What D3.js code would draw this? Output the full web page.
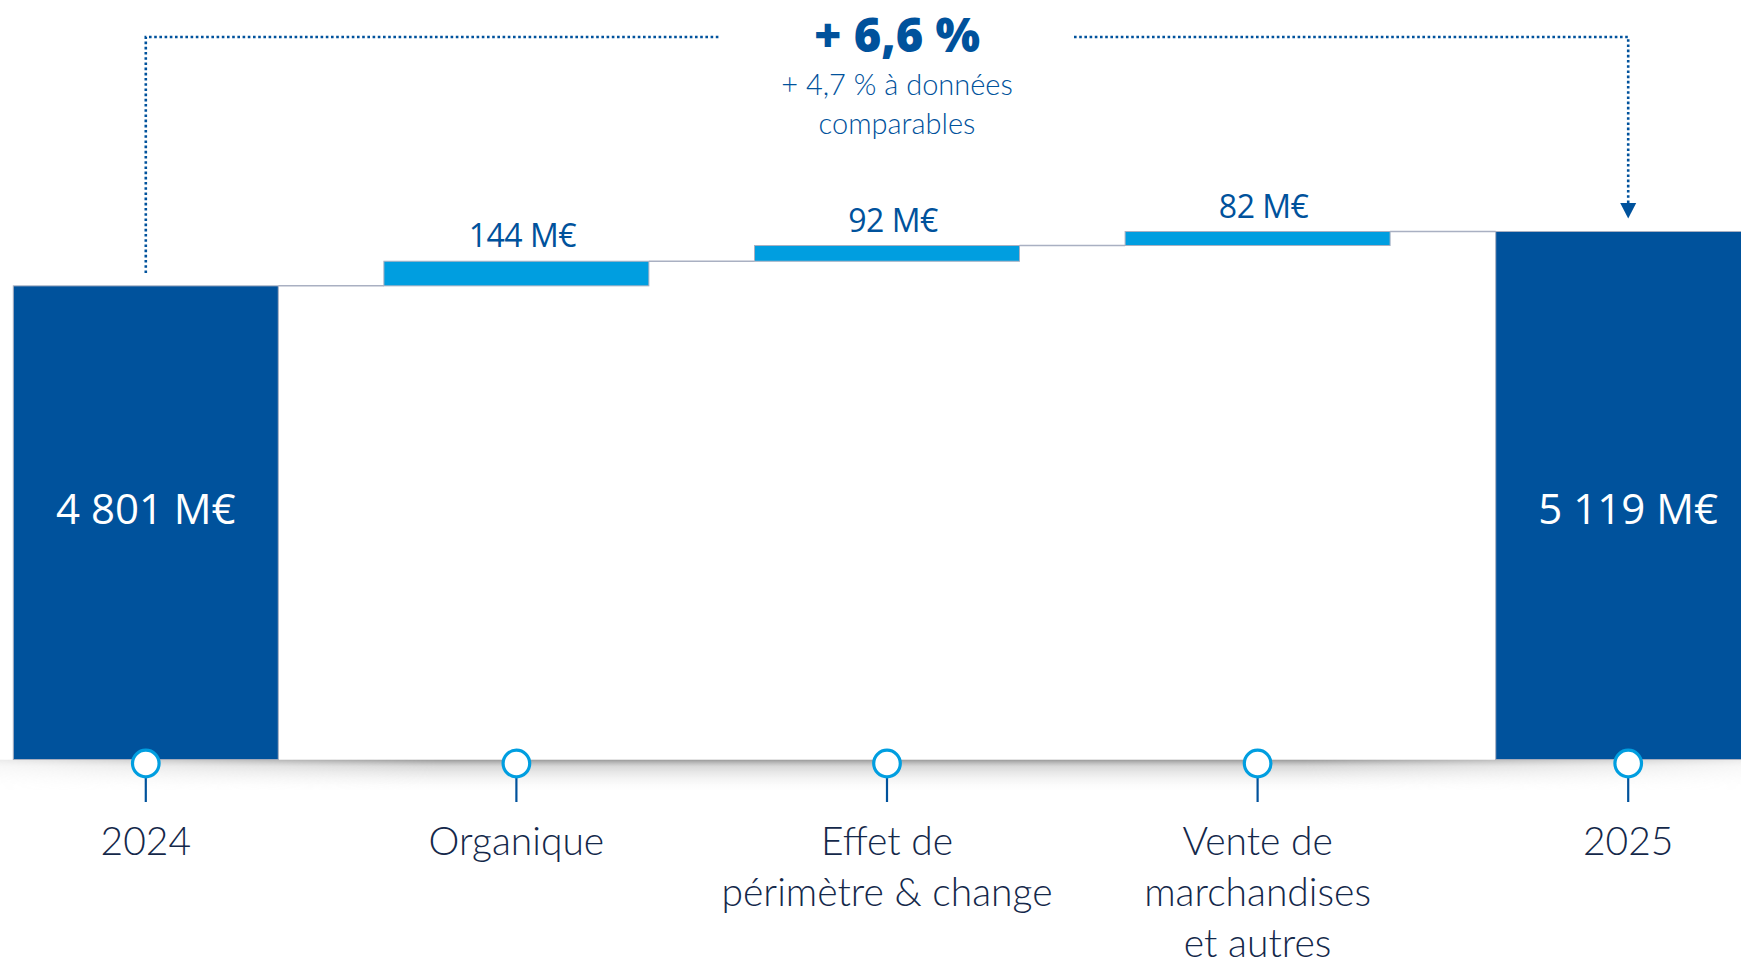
<!DOCTYPE html>
<html>
<head>
<meta charset="utf-8">
<script src="https://cdn.jsdelivr.net/npm/d3@7/dist/d3.min.js"></script>
<style>
  html, body { margin: 0; padding: 0; background: #ffffff; }
  svg { display: block; }
</style>
</head>
<body>
<svg id="chart" width="1741" height="959"></svg>
<script>
// ---------- DATA ----------
const categories = ["2024", "Organique", "Effet de périmètre & change", "Vente de marchandises et autres", "2025"];
const categoryLines = [["2024"], ["Organique"], ["Effet de", "périmètre & change"], ["Vente de", "marchandises", "et autres"], ["2025"]];
const barTypes = ["total", "delta", "delta", "delta", "total"];
const values = [4801, 144, 92, 82, 5119];
const valueLabels = ["4 801 M€", "144 M€", "92 M€", "82 M€", "5 119 M€"];
const growthMain = "+ 6,6 %";
const growthSub = ["+ 4,7 % à données", "comparables"];

// ---------- LAYOUT ----------
const W = 1741, H = 959;
const baseY = 759.5;
const yFloor = 2030;           // value at the baseline (axis does not start at 0)
const darkBlue = "#00529c";
const lightBlue = "#009ee0";
const edgeGray = "#a9b0c2";
const labelColor = "#14284a";

const svg = d3.select("#chart");

// compute waterfall extents
let running = 0;
const bars = categories.map((c, i) => {
  let lo, hi;
  if (barTypes[i] === "total") { lo = yFloor; hi = values[i]; running = values[i]; }
  else { lo = running; hi = running + values[i]; running = hi; }
  return { cat: c, lines: categoryLines[i], type: barTypes[i], lo, hi, label: valueLabels[i] };
});

const x = d3.scaleBand()
  .domain(categories)
  .range([13.3, 1760.7])
  .paddingInner(0.285)
  .paddingOuter(0);

const y = d3.scaleLinear()
  .domain([yFloor, d3.max(bars, d => d.hi)])
  .range([baseY, 231.5]);

const cx = c => x(c) + x.bandwidth() / 2;

// ---------- DEFS ----------
const defs = svg.append("defs");
const vg = defs.append("linearGradient").attr("id", "shadowV").attr("x1", 0).attr("y1", 0).attr("x2", 0).attr("y2", 1);
vg.append("stop").attr("offset", "0%").attr("stop-color", "#8a8a8a").attr("stop-opacity", 0.9);
vg.append("stop").attr("offset", "20%").attr("stop-color", "#b8b8b8").attr("stop-opacity", 0.55);
vg.append("stop").attr("offset", "100%").attr("stop-color", "#ffffff").attr("stop-opacity", 0);
const hg = defs.append("linearGradient").attr("id", "shadowH").attr("x1", 0).attr("y1", 0).attr("x2", 1).attr("y2", 0);
hg.append("stop").attr("offset", "0%").attr("stop-color", "#fff").attr("stop-opacity", 0.2);
hg.append("stop").attr("offset", "25%").attr("stop-color", "#fff").attr("stop-opacity", 1);
hg.append("stop").attr("offset", "75%").attr("stop-color", "#fff").attr("stop-opacity", 1);
hg.append("stop").attr("offset", "100%").attr("stop-color", "#fff").attr("stop-opacity", 0.2);
const mask = defs.append("mask").attr("id", "shadowMask").attr("maskUnits", "userSpaceOnUse")
  .attr("x", 0).attr("y", 0).attr("width", W).attr("height", H);
mask.append("rect").attr("x", 0).attr("y", baseY).attr("width", W).attr("height", 40).attr("fill", "url(#shadowH)");

// ---------- CONNECTORS ----------
svg.append("g").selectAll("line")
  .data(bars.slice(0, -1))
  .join("line")
  .attr("x1", (d, i) => x(d.cat) + x.bandwidth())
  .attr("x2", (d, i) => x(bars[i + 1].cat))
  .attr("y1", d => y(d.hi))
  .attr("y2", d => y(d.hi))
  .attr("stroke", edgeGray)
  .attr("stroke-width", 1.5);

// ---------- BARS ----------
svg.append("g").selectAll("rect")
  .data(bars)
  .join("rect")
  .attr("x", d => x(d.cat))
  .attr("y", d => y(d.hi))
  .attr("width", x.bandwidth())
  .attr("height", d => y(d.lo) - y(d.hi))
  .attr("fill", d => d.type === "total" ? darkBlue : lightBlue)
  .attr("stroke", edgeGray)
  .attr("stroke-width", 1);

// ---------- BASELINE SHADOW ----------
svg.append("rect")
  .attr("x", 0).attr("y", baseY)
  .attr("width", W).attr("height", 34)
  .attr("fill", "url(#shadowV)")
  .attr("mask", "url(#shadowMask)");

// ---------- VALUE LABELS ----------
svg.append("g").selectAll("text")
  .data(bars)
  .join("text")
  .attr("x", d => cx(d.cat) + (d.type === "total" ? 0 : 6))
  .attr("y", d => d.type === "total" ? 524 : y(d.hi) - 14)
  .attr("text-anchor", "middle")
  .attr("font-family", "'Open Sans', 'Noto Sans', sans-serif")
  .attr("font-size", d => d.type === "total" ? 42 : 32)
  .attr("letter-spacing", d => d.type === "total" ? 0 : -0.5)
  .attr("fill", d => d.type === "total" ? "#ffffff" : darkBlue)
  .text(d => d.label);

// ---------- MARKERS ----------
const mk = svg.append("g").selectAll("g")
  .data(bars)
  .join("g")
  .attr("transform", d => `translate(${cx(d.cat)},0)`);
mk.append("line")
  .attr("x1", 0).attr("x2", 0)
  .attr("y1", 776).attr("y2", 802)
  .attr("stroke", darkBlue).attr("stroke-width", 2.2);
mk.append("circle")
  .attr("cx", 0).attr("cy", 763.5).attr("r", 13.3)
  .attr("fill", "#ffffff")
  .attr("stroke", lightBlue).attr("stroke-width", 3.2);

// ---------- CATEGORY LABELS ----------
const cl = svg.append("g").selectAll("text")
  .data(bars)
  .join("text")
  .attr("x", d => cx(d.cat))
  .attr("y", 855)
  .attr("text-anchor", "middle")
  .attr("font-family", "'Lato', 'Open Sans', sans-serif")
  .attr("font-weight", 300)
  .attr("font-size", 39)
  .attr("fill", labelColor);
cl.selectAll("tspan")
  .data(d => d.lines.map(l => ({ l, c: cx(d.cat) })))
  .join("tspan")
  .attr("x", t => t.c)
  .attr("dy", (t, i) => i === 0 ? 0 : 51)
  .text(t => t.l);

// ---------- GROWTH BRACKET ----------
const xL = cx(categories[0]);
const xR = cx(categories[categories.length - 1]);
const topY = 37;
const dotted = { stroke: darkBlue, "stroke-width": 2.6, "stroke-dasharray": "2.6,2.6", fill: "none" };
function dl(pts) {
  const p = svg.append("path").attr("d", d3.line()(pts));
  Object.entries(dotted).forEach(([k, v]) => p.attr(k, v));
}
dl([[xL, 273], [xL, topY], [720, topY]]);
dl([[1074, topY], [xR, topY], [xR, 204]]);
svg.append("path")
  .attr("d", d3.line()([[xR - 8, 203], [xR + 8, 203], [xR, 218.5]]) + "Z")
  .attr("fill", darkBlue);

svg.append("text")
  .attr("x", 897).attr("y", 52)
  .attr("text-anchor", "middle")
  .attr("font-family", "'Open Sans', 'Noto Sans', sans-serif")
  .attr("font-weight", 800)
  .attr("font-size", 47)
  .attr("fill", darkBlue)
  .text(growthMain);

svg.append("g").selectAll("text")
  .data(growthSub)
  .join("text")
  .attr("x", 897)
  .attr("y", (d, i) => 95 + i * 39)
  .attr("text-anchor", "middle")
  .attr("font-family", "'Lato', 'Open Sans', sans-serif")
  .attr("font-weight", 300)
  .attr("font-size", 29)
  .attr("fill", darkBlue)
  .text(d => d);
</script>
</body>
</html>
